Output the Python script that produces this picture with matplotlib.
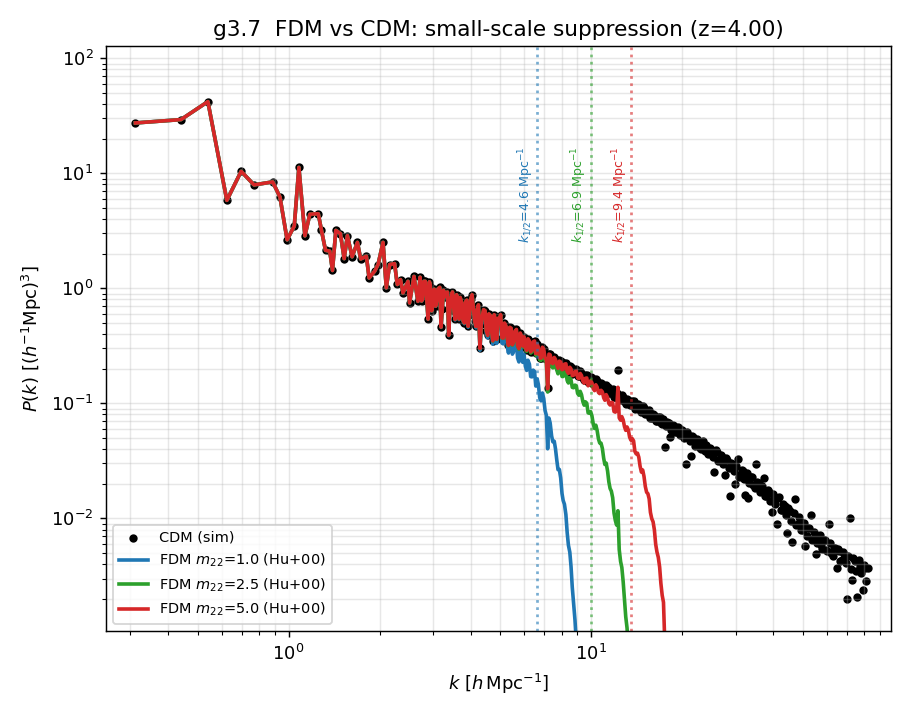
import numpy as np
import matplotlib
matplotlib.use("Agg")
import matplotlib.pyplot as plt

# CDM power spectrum, k in h/Mpc, P in (Mpc/h)^3
k_cdm = [
    0.3115, 0.4406, 0.5408, 0.6248, 0.6966, 0.7685, 0.8857, 0.9362, 0.9887, 1.044,
    1.081, 1.132, 1.175, 1.253, 1.284, 1.324, 1.368, 1.396, 1.432, 1.483,
    1.526, 1.564, 1.621, 1.688, 1.730, 1.807, 1.845, 1.925, 1.975, 2.051,
    2.103, 2.157, 2.240, 2.286, 2.344, 2.387, 2.480, 2.510, 2.596, 2.675,
    2.72, 2.77, 2.83, 2.89, 2.94, 3.00, 3.06, 3.12, 3.19, 3.25,
    3.32, 3.38, 3.45, 3.52, 3.59, 3.66, 3.73, 3.81, 3.88, 3.96,
    4.04, 4.12, 4.20, 4.29, 4.37, 4.46, 4.55, 4.64, 4.73, 4.83,
    4.92, 5.02, 5.12, 5.23, 5.33, 5.44, 5.55, 5.66, 5.77, 5.89,
    6.00, 6.12, 6.25, 6.37, 6.50, 6.63, 6.76, 6.90, 7.04, 7.18,
    7.32, 7.47, 7.62, 7.77, 7.93, 8.08, 8.25, 8.41, 8.58, 8.75,
    8.93, 9.11, 9.29, 9.48, 9.67, 9.86, 10.06, 10.26, 10.46, 10.67,
    10.89, 11.10, 11.33, 11.55, 11.78, 12.02, 12.26, 12.51, 12.76, 13.01,
    13.27, 13.54, 13.81, 14.09, 14.37, 14.66, 14.95, 15.25, 15.55, 15.86,
    16.18, 16.50, 16.84, 17.17, 17.52, 17.87, 18.22, 18.59, 18.96, 19.34,
    19.73, 20.12, 20.52, 20.93, 21.35, 21.78, 22.22, 22.66, 23.11, 23.58,
    24.05, 24.53, 25.02, 25.52, 26.03, 26.55, 27.08, 27.62, 28.18, 28.74,
    29.32, 29.90, 30.50, 31.11, 31.73, 32.37, 33.02, 33.68, 34.35, 35.04,
    35.74, 36.45, 37.18, 37.93, 38.69, 39.46, 40.25, 41.05, 41.88, 42.71,
    43.57, 44.44, 45.33, 46.23, 47.16, 48.10, 49.06, 50.05, 51.05, 52.07,
    53.11, 54.17, 55.26, 56.36, 57.49, 58.64, 59.81, 61.01, 62.23, 63.47,
    64.74, 66.04, 67.36, 68.70, 70.08, 71.48, 72.91, 74.37, 75.85, 77.37,
    78.92, 80.49, 82.10,
]
p_cdm = [
    27.4, 29.3, 42.0, 5.82, 10.4, 7.93, 8.42, 6.21, 2.64, 3.49,
    11.25, 2.86, 4.41, 4.45, 3.19, 2.14, 2.10, 1.43, 3.19, 2.99,
    1.81, 2.87, 1.88, 2.51, 1.80, 1.90, 1.23, 1.41, 1.61, 2.51,
    1.01, 1.61, 1.64, 1.08, 1.19, 0.912, 1.15, 0.746, 1.27, 0.771,
    1.25, 0.80, 1.15, 0.54, 1.05, 0.81, 0.70, 0.99, 0.46, 0.96,
    0.92, 0.39, 0.84, 0.64, 0.88, 0.54, 0.75, 0.50, 0.79, 0.59,
    0.88, 0.52, 0.65, 0.30, 0.58, 0.64, 0.39, 0.58, 0.35, 0.52,
    0.55, 0.59, 0.37, 0.47, 0.32, 0.45, 0.35, 0.44, 0.30, 0.38,
    0.38, 0.29, 0.35, 0.29, 0.35, 0.33, 0.25, 0.31, 0.25, 0.135,
    0.267, 0.224, 0.244, 0.205, 0.233, 0.202, 0.226, 0.187, 0.205, 0.182,
    0.198, 0.172, 0.184, 0.159, 0.178, 0.158, 0.165, 0.143, 0.156, 0.139,
    0.147, 0.127, 0.138, 0.122, 0.132, 0.114, 0.196, 0.107, 0.114, 0.099,
    0.108, 0.096, 0.105, 0.0908, 0.0968, 0.0836, 0.0908, 0.0802, 0.0871, 0.0750,
    0.0796, 0.0703, 0.0762, 0.0661, 0.0418, 0.0682, 0.0514, 0.0643, 0.0569, 0.0619,
    0.0536, 0.0569, 0.0296, 0.0533, 0.0349, 0.0512, 0.0441, 0.0468, 0.0405, 0.0438,
    0.0433, 0.0372, 0.0394, 0.0253, 0.0376, 0.0323, 0.0341, 0.0240, 0.0324, 0.0156,
    0.0299, 0.0200, 0.0325, 0.0237, 0.0256, 0.0161, 0.0150, 0.0228, 0.0195, 0.0296,
    0.0202, 0.0173, 0.0223, 0.0155, 0.0170, 0.0113, 0.0152, 0.0090, 0.0153, 0.0119,
    0.0129, 0.00741, 0.0117, 0.00624, 0.0146, 0.00893, 0.00953, 0.00793, 0.00575, 0.00832,
    0.0107, 0.00662, 0.00492, 0.00695, 0.00581, 0.00643, 0.00527, 0.00885, 0.00502, 0.00556,
    0.00371, 0.00516, 0.00436, 0.00495, 0.00200, 0.0101, 0.00290, 0.00425, 0.00206, 0.00388,
    0.00237, 0.00372, 0.00369,
]

# the band above k~2.7 is packed tighter than the list above; these bins sit in between
k_cdm_fill = [
    2.75, 2.80, 2.86, 2.92, 2.97, 3.03, 3.09, 3.16, 3.22, 3.28,
    3.35, 3.41, 3.48, 3.55, 3.62, 3.69, 3.77, 3.84, 3.92, 4.00,
    4.08, 4.16, 4.24, 4.33, 4.41, 4.50, 4.59, 4.68, 4.78, 4.87,
    4.97, 5.07, 5.17, 5.28, 5.38, 5.49, 5.60, 5.71, 5.83, 5.94,
    6.06, 6.18, 6.31, 6.43, 6.56, 6.69, 6.83, 6.97, 7.11, 7.25,
    7.40, 7.55, 7.70, 7.85, 8.01, 8.16, 8.33, 8.50, 8.66, 8.84,
    9.02, 9.20, 9.39, 9.57, 9.77, 9.96, 10.16, 10.36, 10.57, 10.78,
    11.00, 11.21, 11.44, 11.66, 11.90, 12.14, 12.38, 12.63, 12.89, 13.14,
    13.40, 13.67, 13.95, 14.23, 14.51, 14.80, 15.10, 15.40, 15.70, 16.02,
    16.34, 16.67, 17.00, 17.34, 17.69, 18.04, 18.40, 18.77, 19.15, 19.53,
    19.92, 20.32, 20.72, 21.14, 21.56, 22.00, 22.44, 22.88, 23.34, 23.81,
    24.29, 24.77, 25.27, 25.77, 26.29, 26.81, 27.35, 27.90, 28.46, 29.03,
    29.61, 30.20, 30.80, 31.42, 32.05, 32.69, 33.35, 34.01, 34.70, 35.39,
    36.10, 36.81, 37.55, 38.31, 39.07, 39.85, 40.65, 41.46, 42.29, 43.14,
    44.00, 44.89, 45.78, 46.70, 47.63, 48.58, 49.55, 50.55, 51.56, 52.59,
    53.64, 54.71, 55.81, 56.93, 58.06, 59.22, 60.41, 61.62, 62.85, 64.10,
    65.39, 66.70, 68.03, 69.39, 70.78, 72.19, 73.64, 75.11, 76.61, 78.14,
    79.70, 81.30,
]
p_cdm_fill = [
    0.776, 1.15, 0.824, 1.14, 0.637, 0.982, 0.794, 1.02, 0.656, 0.845,
    0.929, 0.644, 0.931, 0.537, 0.759, 0.834, 0.525, 0.759, 0.468, 0.811,
    0.675, 0.466, 0.719, 0.485, 0.653, 0.428, 0.600, 0.442, 0.590, 0.361,
    0.507, 0.373, 0.500, 0.368, 0.460, 0.324, 0.424, 0.320, 0.410, 0.316,
    0.307, 0.366, 0.282, 0.344, 0.272, 0.309, 0.249, 0.296, 0.244, 0.271,
    0.229, 0.254, 0.219, 0.237, 0.200, 0.224, 0.194, 0.212, 0.180, 0.196,
    0.174, 0.191, 0.165, 0.176, 0.153, 0.171, 0.148, 0.162, 0.141, 0.150,
    0.132, 0.144, 0.124, 0.131, 0.113, 0.123, 0.109, 0.118, 0.103, 0.110,
    0.0973, 0.104, 0.0899, 0.0982, 0.0869, 0.0944, 0.0815, 0.0865, 0.0746, 0.0809,
    0.0698, 0.0759, 0.0670, 0.0731, 0.0632, 0.0673, 0.0582, 0.0634, 0.0561, 0.0611,
    0.0592, 0.0499, 0.0568, 0.0468, 0.0520, 0.0429, 0.0486, 0.0411, 0.0467, 0.0384,
    0.0361, 0.0409, 0.0344, 0.0391, 0.0314, 0.0356, 0.0299, 0.0337, 0.0276, 0.0305,
    0.0256, 0.0288, 0.0231, 0.0261, 0.0219, 0.0247, 0.0202, 0.0228, 0.0182, 0.0206,
    0.0169, 0.0190, 0.0158, 0.0178, 0.0142, 0.0163, 0.0133, 0.0150, 0.0119, 0.0133,
    0.0107, 0.0122, 0.00946, 0.0111, 0.00875, 0.0102, 0.00793, 0.00912, 0.00708, 0.00832,
    0.00647, 0.00760, 0.00605, 0.00713, 0.00545, 0.00646, 0.00518, 0.00615, 0.00471, 0.00558,
    0.00538, 0.00423, 0.00515, 0.00406, 0.00472, 0.00362, 0.00452, 0.00348, 0.00433, 0.00333,
    0.00396, 0.00284,
]

# FDM models (Hu, Barkana & Gruzinov 2000)
m22 = [1.0, 2.5, 5.0]
k_half = [4.6, 6.9, 9.4]  # Mpc^-1, as printed on the figure
h = 0.693
colors = ["tab:blue", "tab:green", "tab:red"]


def hu_transfer(k_mpc, m):
    # T(k) = cos(x^3) / (1 + x^8)
    k_jeq = 9.0 * np.sqrt(m)
    x = 1.61 * m ** (1.0 / 18.0) * k_mpc / k_jeq
    return np.cos(x**3) / (1.0 + x**8)


k = np.concatenate([k_cdm, k_cdm_fill])
p = np.concatenate([p_cdm, p_cdm_fill])
order = np.argsort(k)
k = k[order]
p = p[order]

fig, ax = plt.subplots(figsize=(7, 5.5), dpi=130)

ax.scatter(k, p, s=13, color="k", label="CDM (sim)")
for m, c in zip(m22, colors):
    p_fdm = p * hu_transfer(k * h, m) ** 2
    ax.plot(k, p_fdm, color=c, lw=2, label=f"FDM $m_{{22}}$={m:.1f} (Hu+00)")

for kh, c in zip(k_half, colors):
    ax.axvline(kh / h, color=c, ls=":", lw=1.5, alpha=0.6)
    ax.text(kh / h * 0.92, 2.5, rf"$k_{{1/2}}$={kh:.1f} Mpc$^{{-1}}$",
            rotation=90, color=c, fontsize=7, ha="center", va="bottom")

ax.set_xscale("log")
ax.set_yscale("log")
ax.set_xlim(0.249, 97.6)
ax.set_ylim(1.04e-3, 127)
ax.grid(True, which="both", alpha=0.3)

ax.set_xlabel(r"$k$ [$h\,$Mpc$^{-1}$]")
ax.set_ylabel(r"$P(k)$ [$(h^{-1}$Mpc$)^3$]")
ax.set_title("g3.7  FDM vs CDM: small-scale suppression (z=4.00)")
ax.legend(loc="lower left", fontsize=8)

fig.tight_layout()
fig.savefig("out.png", dpi=130)
